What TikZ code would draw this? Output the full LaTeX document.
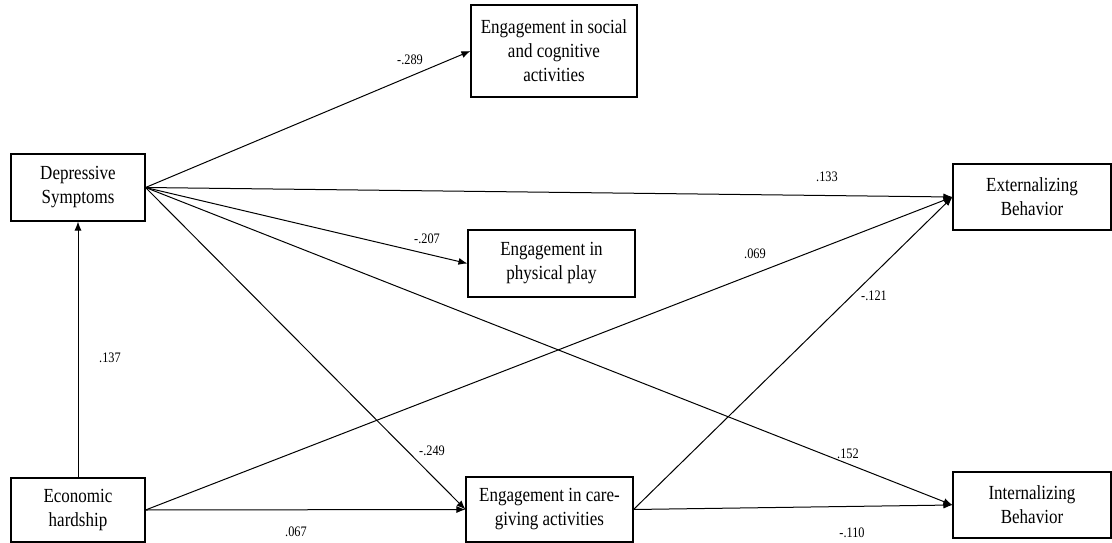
\documentclass[tikz,border=0pt]{standalone}
\usepackage{fontspec}
\setmainfont{Liberation Serif}[FakeStretch=0.85]
\usepackage{tikz}
\usetikzlibrary{arrows.meta, positioning}

\begin{document}
\begin{tikzpicture}[x=1pt, y=-1pt,
          box/.style={draw=black, fill=white, line width=1.1pt, inner sep=2pt,
              minimum height=67pt, font=\fontsize{20}{24}\selectfont, align=center},
          arr/.style={-{Latex[length=9pt,width=7pt]}, black, line width=1pt},
          coef/.style={font=\fontsize{14.5}{17}\selectfont, inner sep=1pt}
        ]
        \useasboundingbox (0,0) rectangle (1112,543);
        \node[box, minimum width=134pt] (dep)  at (78,187.5)  {Depressive\\Symptoms};
        \node[box, minimum width=134pt, minimum height=64pt] (eco)  at (78,510) {Economic\\hardship};
        \node[box, minimum width=166pt, minimum height=92pt] (soc) at (554,51) {Engagement in social\\and cognitive\\activities};
        \node[box, minimum width=167pt] (phys) at (551.5,263.5) {Engagement in\\physical play};
        \node[box, minimum width=167pt, minimum height=65pt] (care) at (549.5,509.5) {Engagement in care-\\giving activities};
        \node[box, minimum width=158pt, minimum height=66pt] (ext)  at (1032,197) {Externalizing\\Behavior};
        \node[box, minimum width=158pt, minimum height=66pt] (int)  at (1032,505) {Internalizing\\Behavior};
        % paths
        \draw[arr] (eco.north) -- (dep.south);
        \draw[arr] (dep.east) -- (soc.west);
        \draw[arr] (dep.east) -- (ext.west);
        \draw[arr] (dep.east) -- (phys.west);
        \draw[arr] (dep.east) -- (care.west);
        \draw[arr] (dep.east) -- (int.west);
        \draw[arr] (eco.east) -- (ext.west);
        \draw[arr] (eco.east) -- (care.west);
        \draw[arr] (care.east) -- (ext.west);
        \draw[arr] (care.east) -- (int.west);
        % coefficients
        \node[coef] (c1)  at (110,358) {.137};
        \node[coef] (c2)  at (410,60)  {-.289};
        \node[coef] (c3)  at (827,177) {.133};
        \node[coef] (c4)  at (427,239) {-.207};
        \node[coef] (c5)  at (755,254) {.069};
        \node[coef] (c6)  at (874,296) {-.121};
        \node[coef] (c7)  at (432,451) {-.249};
        \node[coef] (c8)  at (848,454) {.152};
        \node[coef] (c9)  at (296,532) {.067};
        \node[coef] (c10) at (852,533) {-.110};
      \end{tikzpicture}
\end{document}
